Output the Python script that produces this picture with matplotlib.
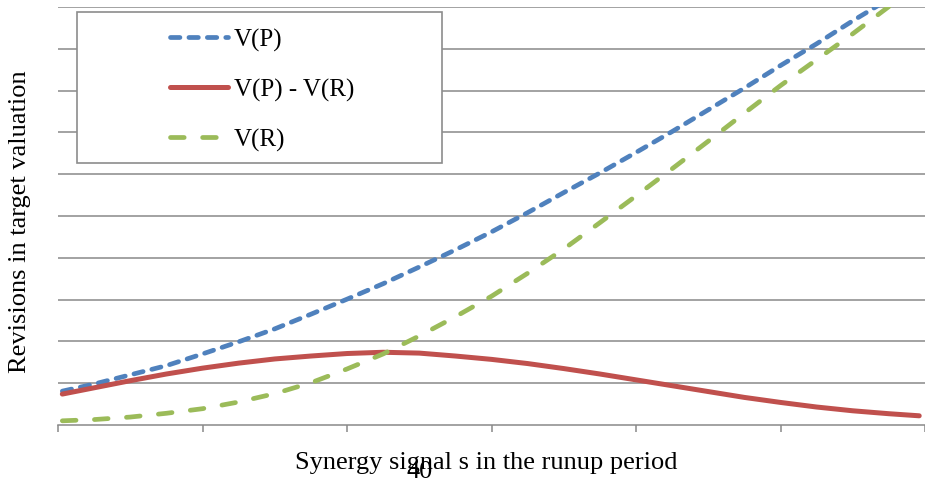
import matplotlib
matplotlib.use("Agg")
import matplotlib.pyplot as plt
from matplotlib.patches import Rectangle

# Data
s = [0.03, 0.25, 0.5, 0.75, 1.0, 1.25, 1.5, 1.75, 2.0, 2.25, 2.5, 2.75, 3.0,
     3.25, 3.5, 3.75, 4.0, 4.25, 4.5, 4.75, 5.0, 5.25, 5.5, 5.75, 5.96]
v_p = [0.81, 0.98, 1.20, 1.42, 1.70, 1.99, 2.30, 2.65, 3.01, 3.38, 3.78, 4.19, 4.62,
       5.08, 5.56, 6.03, 6.52, 7.02, 7.54, 8.06, 8.60, 9.12, 9.67, 10.19, 10.62]
v_diff = [0.74, 0.89, 1.06, 1.22, 1.36, 1.48, 1.58, 1.65, 1.71, 1.74, 1.72, 1.65, 1.57,
          1.47, 1.35, 1.22, 1.08, 0.94, 0.80, 0.66, 0.54, 0.43, 0.34, 0.27, 0.22]
v_r = [0.10, 0.13, 0.19, 0.28, 0.39, 0.55, 0.75, 1.01, 1.34, 1.70, 2.13, 2.59, 3.08,
       3.63, 4.21, 4.84, 5.48, 6.13, 6.79, 7.46, 8.12, 8.74, 9.36, 10.01, 10.55]
labels = ["V(P)", "V(P) - V(R)", "V(R)"]
x_ticks = [0, 1, 2, 3, 4, 5, 6]
y_ticks = [0, 1, 2, 3, 4, 5, 6, 7, 8, 9, 10]

W, H = 925, 481
fig = plt.figure(figsize=(W / 100, H / 100), dpi=100)
serif = ["Liberation Serif", "DejaVu Serif"]

ax = fig.add_axes([58 / W, (H - 426) / H, (W - 58) / W, (426 - 8) / H])
ax.set_xlim(0, 5.96)
ax.set_ylim(0, 10)

grid_c = "#898989"
for yv in y_ticks[1:]:
    ax.axhline(yv, color=grid_c, lw=1.1, zorder=1)

blue = "#4F81BD"
red = "#C0504D"
green = "#9BBB59"

l1, = ax.plot(s, v_p, color=blue, lw=3.4, linestyle=(0, (2.0, 1.9)),
              dash_capstyle="round", dash_joinstyle="round", zorder=3,
              label=labels[0])
l2, = ax.plot(s, v_diff, color=red, lw=3.6, solid_capstyle="round",
              solid_joinstyle="round", zorder=3, label=labels[1])
l3, = ax.plot(s, v_r, color=green, lw=3.4, linestyle=(0, (2.9, 3.9)),
              dash_capstyle="round", dash_joinstyle="round", zorder=3,
              label=labels[2])

for sp in ["left", "right", "top"]:
    ax.spines[sp].set_visible(False)
ax.spines["bottom"].set_color(grid_c)
ax.spines["bottom"].set_linewidth(1.1)
ax.set_xticks(x_ticks)
ax.set_xticklabels([])
ax.set_yticks([])
ax.tick_params(axis="x", direction="out", length=5, width=1.1, color=grid_c)

# legend frame
rect = Rectangle((77 / W, 1 - 164 / H), (442 - 77) / W, (164 - 13) / H,
                 transform=fig.transFigure, facecolor="white",
                 edgecolor="#8c8c8c", lw=1.2, zorder=4)
fig.patches.append(rect)
leg = fig.legend(handles=[l1, l2, l3], labels=labels, loc="upper left",
                 bbox_to_anchor=(170 / W, 1 - 29 / H), frameon=False,
                 prop={"family": serif, "size": 18}, handlelength=2.3,
                 handletextpad=0.24, labelspacing=1.07, borderpad=0,
                 borderaxespad=0)
leg.set_zorder(5)

fig.text(20 / W, 1 - 222 / H, "Revisions in target valuation", rotation=90,
         ha="center", va="center", family=serif, fontsize=19)
fig.text(486 / W, 1 - 463 / H, "Synergy signal s in the runup period",
         ha="center", va="center", family=serif, fontsize=19)
fig.text(420 / W, 1 - 472 / H, "40", ha="center", va="center",
         family=serif, fontsize=19)

fig.savefig("out.png", dpi=100)
